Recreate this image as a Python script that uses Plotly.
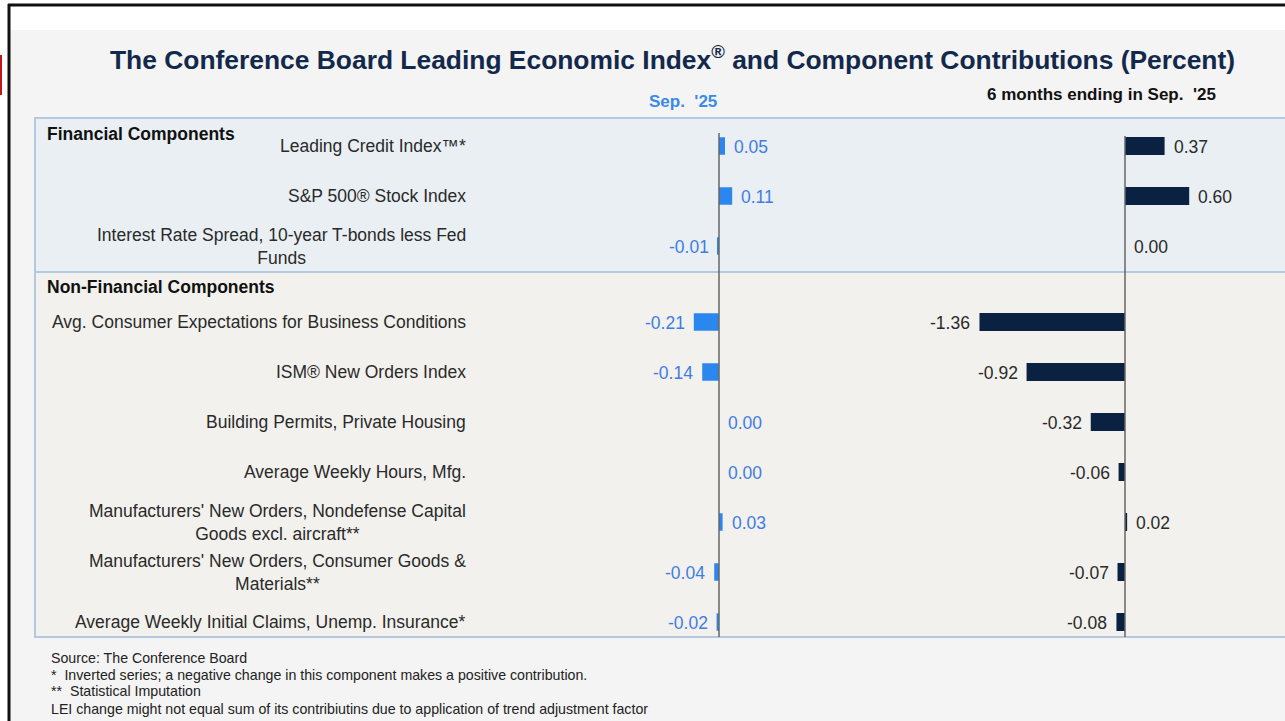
import plotly.graph_objects as go

W, H = 1285, 721

# ---------------- data ----------------
components = [
    "Leading Credit Index™*",
    "S&P 500® Stock Index",
    "Interest Rate Spread, 10-year T-bonds less Fed<br>Funds",
    "Avg. Consumer Expectations for Business Conditions",
    "ISM® New Orders Index",
    "Building Permits, Private Housing",
    "Average Weekly Hours, Mfg.",
    "Manufacturers' New Orders, Nondefense Capital<br>Goods excl. aircraft**",
    "Manufacturers' New Orders, Consumer Goods &<br>Materials**",
    "Average Weekly Initial Claims, Unemp. Insurance*",
]
groups = ["Financial"] * 3 + ["Non-Financial"] * 7
monthly_sep25 = [0.05, 0.11, -0.01, -0.21, -0.14, 0.00, 0.00, 0.03, -0.04, -0.02]
six_months_sep25 = [0.37, 0.60, 0.00, -1.36, -0.92, -0.32, -0.06, 0.02, -0.07, -0.08]

group_titles = ["Financial Components", "Non-Financial Components"]
title_text = ("The Conference Board Leading Economic Index<sup>®</sup> and "
              "Component Contributions (Percent)")
header_monthly = "Sep.  '25"
header_six = "6 months ending in Sep.  '25"
footnotes = [
    "Source: The Conference Board",
    "*  Inverted series; a negative change in this component makes a positive contribution.",
    "**  Statistical Imputation",
    "LEI change might not equal sum of its contribiutins due to application of trend adjustment factor",
]

# ---------------- layout helpers ----------------
def px(x):
    return x / W


def py(y):
    return 1 - y / H


GROUP_GAP = 0.52
ypos = []
for i, g in enumerate(groups):
    ypos.append(i + (GROUP_GAP if g == "Non-Financial" else 0))

ROW_PX = 50.0
ROW0 = 146.0
Y_TOP, Y_BOT = 118, 637
y_range = [(Y_BOT - ROW0) / ROW_PX, (Y_TOP - ROW0) / ROW_PX]

# left chart: zero at 719px, 120 px / unit
L0, LS = 719.0, 120.0
LD = (560, 900)
# right chart: zero at 1125px, 107 px / unit
R0, RS = 1125.0, 107.0
RD = (900, 1285)

BLUE = "#2b87ee"
BLUE_TXT = "#3f7de4"
NAVY = "#0b2142"
TXT = "#2a2a2a"
FONT = "Liberation Sans, Arial, sans-serif"

fig = go.Figure()
fig.add_trace(go.Bar(
    x=monthly_sep25, y=ypos, orientation="h", marker_color=BLUE,
    marker_line_width=0, width=0.35, xaxis="x", yaxis="y",
    hoverinfo="x", showlegend=False))
fig.add_trace(go.Bar(
    x=six_months_sep25, y=ypos, orientation="h", marker_color=NAVY,
    marker_line_width=0, width=0.36, xaxis="x2", yaxis="y",
    hoverinfo="x", showlegend=False))

annotations = []
# value labels
for vals, xref, color in [(monthly_sep25, "x", BLUE_TXT), (six_months_sep25, "x2", TXT)]:
    for v, yv in zip(vals, ypos):
        neg = v < 0
        annotations.append(dict(
            x=v, y=yv, xref=xref, yref="y", text=f"{v:.2f}", showarrow=False,
            xanchor="right" if neg else "left", xshift=-7 if neg else 7,
            yshift=-1,
            font=dict(family=FONT, size=17.5, color=color)))
# row labels
for name, yv in zip(components, ypos):
    annotations.append(dict(
        x=px(468), y=yv, xref="paper", yref="y", text=name, showarrow=False,
        xanchor="right", align="center",
        font=dict(family=FONT, size=17.5, color=TXT)))
# group titles
annotations.append(dict(x=px(45), y=py(134), xref="paper", yref="paper",
                        text=f"<b>{group_titles[0]}</b>", showarrow=False,
                        xanchor="left", yanchor="middle",
                        font=dict(family=FONT, size=17.5, color="#111")))
annotations.append(dict(x=px(45), y=py(287), xref="paper", yref="paper",
                        text=f"<b>{group_titles[1]}</b>", showarrow=False,
                        xanchor="left", yanchor="middle",
                        font=dict(family=FONT, size=17.5, color="#111")))
# title
annotations.append(dict(x=px(672), y=py(58), xref="paper", yref="paper",
                        text=f"<b>{title_text}</b>", showarrow=False,
                        xanchor="center", yanchor="middle",
                        font=dict(family=FONT, size=26.4, color="#13294b")))
# headers
annotations.append(dict(x=px(683), y=py(102), xref="paper", yref="paper",
                        text=f"<b>{header_monthly}</b>", showarrow=False,
                        xanchor="center", yanchor="middle",
                        font=dict(family=FONT, size=17, color="#3a8ae6")))
annotations.append(dict(x=px(1101), y=py(95), xref="paper", yref="paper",
                        text=f"<b>{header_six}</b>", showarrow=False,
                        xanchor="center", yanchor="middle",
                        font=dict(family=FONT, size=17, color="#111")))
# footnotes
for t, yy in zip(footnotes, [658, 675, 691, 709]):
    annotations.append(dict(x=px(49), y=py(yy), xref="paper", yref="paper",
                            text=t, showarrow=False, xanchor="left", yanchor="middle",
                            font=dict(family=FONT, size=14.2, color="#222")))

shapes = [
    # gray page background
    dict(type="rect", xref="paper", yref="paper", x0=px(9), x1=px(1290), y0=py(725), y1=py(30),
         fillcolor="#f4f4f4", line_width=0, layer="below"),
    # financial box
    dict(type="rect", xref="paper", yref="paper", x0=px(35), x1=px(1292), y0=py(272), y1=py(118),
         fillcolor="#e9eff3", line=dict(color="#b3c9df", width=2), layer="below"),
    # non-financial box
    dict(type="rect", xref="paper", yref="paper", x0=px(35), x1=px(1292), y0=py(637), y1=py(272),
         fillcolor="#f2f1ed", line=dict(color="#b3c9df", width=2), layer="below"),
    # frame
    dict(type="line", xref="paper", yref="paper", x0=px(8), x1=px(1290), y0=py(5), y1=py(5),
         line=dict(color="#111", width=3)),
    dict(type="line", xref="paper", yref="paper", x0=px(9), x1=px(9), y0=py(4), y1=py(725),
         line=dict(color="#111", width=3)),
    dict(type="rect", xref="paper", yref="paper", x0=px(0), x1=px(2), y0=py(95), y1=py(55),
         fillcolor="#c01818", line_width=0),
    # zero lines
    dict(type="line", xref="x", yref="paper", x0=0, x1=0, y0=py(637), y1=py(133),
         line=dict(color="#666", width=1.5)),
    dict(type="line", xref="x2", yref="paper", x0=0, x1=0, y0=py(637), y1=py(136),
         line=dict(color="#666", width=1.5)),
]

axis_common = dict(showgrid=False, zeroline=False, showticklabels=False, showline=False,
                   ticks="", fixedrange=True)
fig.update_layout(
    width=W, height=H, margin=dict(l=0, r=0, t=0, b=0),
    paper_bgcolor="white", plot_bgcolor="rgba(0,0,0,0)",
    barmode="overlay", showlegend=False,
    xaxis=dict(domain=[px(LD[0]), px(LD[1])],
               range=[(LD[0] - L0) / LS, (LD[1] - L0) / LS], **axis_common),
    xaxis2=dict(domain=[px(RD[0]), px(RD[1])],
                range=[(RD[0] - R0) / RS, (RD[1] - R0) / RS], anchor="y", **axis_common),
    yaxis=dict(domain=[py(Y_BOT), py(Y_TOP)], range=y_range, **axis_common),
    annotations=annotations, shapes=shapes,
    font=dict(family=FONT),
)

fig.write_html(
    "out.html",
    config={"displayModeBar": False},
    post_script="document.body.style.margin='0px';document.body.style.overflow='hidden';",
)
